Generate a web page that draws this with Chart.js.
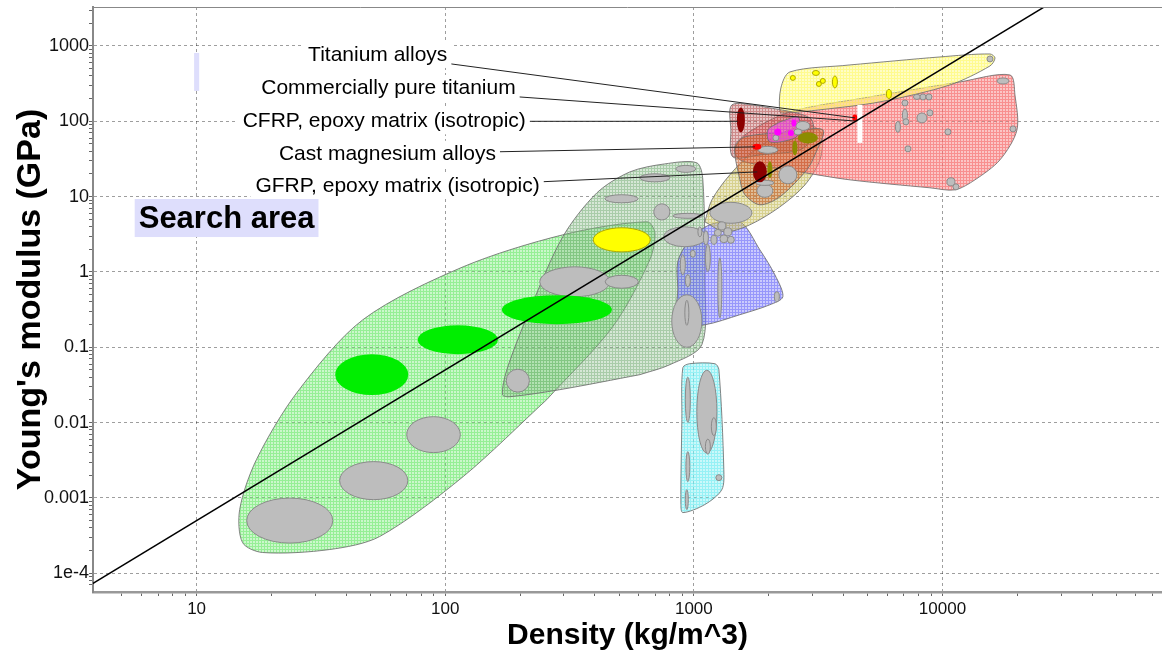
<!DOCTYPE html>
<html>
<head>
<meta charset="utf-8">
<script src="https://cdn.jsdelivr.net/npm/chart.js@4.4.1/dist/chart.umd.min.js"></script>
<style>
body { margin: 0; background: #fff; }
</style>
</head>
<body>
<canvas id="chart" width="1162" height="657"></canvas>
<script>
// axes
var xTicks = [10, 100, 1000, 10000];
var xTickLabels = ['10', '100', '1000', '10000'];
var yTicks = [1e-4, 0.001, 0.01, 0.1, 1, 10, 100, 1000];
var yTickLabels = ['1e-4', '0.001', '0.01', '0.1', '1', '10', '100', '1000'];
var xRange = [3.83, 76400];
var yRange = [5.65e-5, 3290];

// guide line (slope 2 in log-log)
var guideDensity = [1, 100000];
var guideModulus = [5.0e-6, 5.0e4];

// envelopes, [density, modulus] hull points
var foams = [[256,0.0202],[472,0.188],[665,1.45],[697,3.31],[647,4.63],[297,3.11],[118,1.17],[46.6,0.232],[25.3,0.025],[17.4,3.23e-3],[14.9,7.02e-4],[15.3,2.56e-4],[18.4,1.89e-4],[34.3,2.07e-4],[54.5,3.08e-4],[118,1.92e-3]];
var natural = [[606,0.0433],[289,0.0274],[182,0.0221],[170,0.0235],[177,0.0505],[219,0.315],[297,2.93],[407,11.2],[553,21.3],[764,27.2],[1028,28.1],[1087,16.7],[1107,0.788],[1077,0.108],[801,0.0588]];
var elastomers = [[895,0.011],[903,0.0536],[963,0.0606],[1215,0.0606],[1261,0.0505],[1320,2.38e-3],[1296,1.29e-3],[1107,8.18e-4],[903,6.40e-4],[887,8.18e-4]];
var polymers = [[862,0.6],[862,1.37],[963,2.67],[1160,4.23],[1532,4.63],[1843,1.97],[2118,0.918],[2281,0.469],[2022,0.367],[1532,0.271],[1107,0.199],[862,0.199]];
var composites = [[1107,4.63],[1182,9.07],[1396,19.5],[1760,41.8],[2324,72.3],[2930,89.6],[3275,66.0],[3214,30.8],[2797,14.3],[2219,7.32],[1680,4.23],[1332,3.41]];
var metals = [[5107,211],[11760,333],[18690,412],[19570,224],[19940,76.9],[17040,30.8],[13510,16.7],[11230,12.3],[8906,13.1],[4243,16.7],[2670,21.3],[1843,26.4],[1532,30.8],[1462,41.8],[1604,66.0],[2434,133]];
var ceramics = [[4243,560],[9770,715],[15530,783],[16270,693],[15530,543],[10720,304],[5604,181],[3214,142],[2324,129],[2219,133],[2239,277],[2434,452]];
var cfrp = [[1843,160],[2930,111],[3012,62.1],[2670,41.8],[1843,35.8],[1435,33.7],[1409,76.9],[1422,165]];
var lightAlloys = [[2434,72.3],[3305,76.9],[3068,35.8],[2848,22.7],[2219,9.94],[1843,7.79],[1604,10.6],[1532,16.7],[1462,45.8],[1604,62.1]];
var magnesium = [[2219,98.2],[2621,114],[2670,81.7],[2550,60.2],[2022,53.3],[1985,76.9]];

var envelopes = [foams, natural, elastomers, polymers, composites, metals, ceramics, cfrp, lightAlloys, magnesium];
var envelopeColors = [
  [100, 230, 100, 0.42], [120, 175, 120, 0.38], [110, 235, 240, 0.45], [110, 110, 250, 0.45],
  [200, 190, 100, 0.45], [245, 110, 110, 0.5], [255, 250, 110, 0.5], [180, 80, 80, 0.4],
  [200, 100, 50, 0.4], [230, 80, 220, 0.55]
];

// bubbles: [density lo, density hi, modulus lo, modulus hi]
var grayBubbles = [
  [15.9,35.3,2.52e-4,9.97e-4],[37.6,70.7,9.5e-4,3.04e-3],[70,115,4.0e-3,0.012],[176,218,0.0254,0.0512],
  [240,459,0.469,1.17],[440,598,0.608,0.904],[439,597,8.28,10.6],[606,801,15.7,20.1],[846,1019,21.0,26.0],
  [690,801,4.90,8.03],[823,1087,5.15,6.00],[757,1118,2.16,3.98],[1160,1712,4.43,8.40],
  [1249,1345,3.61,4.63],[1320,1422,3.02,3.86],[1209,1290,2.98,3.68],[1273,1370,2.44,3.11],
  [1364,1455,2.40,2.98],[1171,1238,2.33,3.07],[1092,1144,2.29,3.52],[1038,1077,2.93,3.98],
  [882,924,0.918,1.69],[924,968,0.637,0.918],[968,1014,1.57,1.94],[1113,1165,1.02,2.33],
  [1249,1296,0.247,1.54],[815,1077,0.1,0.498],[920,955,0.196,0.421],[2108,2208,0.402,0.546],
  [1028,1238,3.94e-3,0.0497],[1176,1232,6.72e-3,0.01165],[1113,1165,3.82e-3,6.04e-3],[924,968,0.01015,0.0401],
  [929,963,1.65e-3,4.12e-3],[924,950,7.02e-4,1.29e-3],[1226,1296,1.70e-3,2.04e-3],
  [1809,2178,37.5,46.5],[2198,2597,14.8,25.6],[1792,2079,9.79,14.6],[1776,2099,14.1,16.5],
  [2573,2930,75.7,99.7],[2526,2720,66.0,79.3],[2079,2198,55.0,66.0],
  [15100,15970,614,737],[16570,18520,313,376],[6871,7263,160,192],[7643,8155,195,228],[8118,8582,192,231],
  [8582,9073,192,231],[6903,7230,100,146],[6935,7330,89.6,108],[6468,6775,71.3,99.7],[7896,8661,95.2,129],
  [8661,9157,118,142],[10230,10820,66.0,79.3],[7066,7468,39.3,47.2],[18690,19760,72.3,86.9],
  [10420,11230,13.9,17.8],[11020,11650,12.3,14.8]
];
var greenBubbles = [[36.1,71.0,0.0232,0.081],[77.5,163,0.081,0.196],[169,468,0.2025,0.491]];
var yellowBubbles = [[394,668,1.85,3.86],[2445,2561,349,406],[2999,3199,406,473],[3111,3259,290,338],[3228,3381,318,371],[3609,3780,277,400],[5952,6233,201,265]];
var oliveBubbles = [[2621,3155,50.9,71.3],[2491,2609,35.3,55.8],[1975,2070,17.5,29.4]];
var magentaBubbles = [[2108,2250,65.0,80.5],[2389,2526,64.0,76.9],[2468,2585,85.6,106]];
var darkRedBubbles = [[1489,1604,71.3,153],[1728,1966,15.5,29.4]];
var redBubbles = [[1720,1869,41.8,50.2],[4343,4549,99.7,123]];
var whiteBars = [[4549,4764,51.7,165]];
var searchBar = [9.77, 10.24, 253, 808];

// labels
var labelTexts = ['Titanium alloys', 'Commercially pure titanium', 'CFRP, epoxy matrix (isotropic)', 'Cast magnesium alloys', 'GFRP, epoxy matrix (isotropic)'];
var labelAt = [[102, 760], [192, 277], [211, 100], [160, 37.0], [240, 13.9]];
var labelTarget = [[4445, 111], [4445, 101], [1503, 100], [1760, 45.8], [1800, 21.3]];
var searchText = 'Search area';
var searchAt = [13.2, 5.2];

Chart.defaults.font.family = "'Liberation Sans', Arial, sans-serif";

function hatch(c) {
  var cv = document.createElement('canvas');
  cv.width = 3; cv.height = 3;
  var g = cv.getContext('2d');
  g.fillStyle = 'rgba(' + c[0] + ',' + c[1] + ',' + c[2] + ',' + (c[3] * 0.8) + ')';
  g.fillRect(0, 0, 3, 3);
  g.fillStyle = 'rgba(' + c[0] + ',' + c[1] + ',' + c[2] + ',' + Math.min(1, c[3] * 1.25) + ')';
  g.fillRect(0, 0, 3, 1);
  g.fillRect(0, 1, 1, 2);
  return g.createPattern(cv, 'repeat');
}

function isDecade(v) {
  var l = Math.log10(v);
  return Math.abs(l - Math.round(l)) < 1e-6;
}

function keepWholeSteps(scale) {
  scale.ticks = scale.ticks.filter(function (t) {
    var m = t.value / Math.pow(10, Math.floor(Math.log10(t.value) + 1e-9));
    return Math.abs(m - Math.round(m)) < 1e-6;
  });
}

function tickText(v, vals, texts) {
  for (var i = 0; i < vals.length; i++) {
    if (Math.abs(v / vals[i] - 1) < 1e-6) return texts[i];
  }
  return '';
}

function gridColor(ctx) {
  return ctx.tick && isDecade(ctx.tick.value) ? 'rgba(0,0,0,0.38)' : 'rgba(0,0,0,0)';
}

var datasets = [{
  data: guideDensity.map(function (x, i) { return {x: x, y: guideModulus[i]}; }),
  showLine: true, borderColor: '#000', borderWidth: 1.5, pointRadius: 0, fill: false, order: 0
}];
envelopes.forEach(function (env, i) {
  datasets.push({
    data: env.concat([env[0]]).map(function (p) { return {x: p[0], y: p[1]}; }),
    showLine: true,
    fill: 'shape',
    backgroundColor: hatch(envelopeColors[i]),
    borderColor: 'rgba(110,110,110,0.85)',
    borderWidth: 1,
    pointRadius: 0,
    tension: 0.3,
    order: envelopes.length - i
  });
});

function drawBubbles(chart, list, fill, stroke) {
  var ctx = chart.ctx, xs = chart.scales.x, ys = chart.scales.y;
  list.forEach(function (b) {
    var x1 = xs.getPixelForValue(b[0]), x2 = xs.getPixelForValue(b[1]);
    var y1 = ys.getPixelForValue(b[2]), y2 = ys.getPixelForValue(b[3]);
    ctx.beginPath();
    ctx.ellipse((x1 + x2) / 2, (y1 + y2) / 2, Math.abs(x2 - x1) / 2, Math.abs(y1 - y2) / 2, 0, 0, Math.PI * 2);
    ctx.fillStyle = fill;
    ctx.fill();
    if (stroke) {
      ctx.strokeStyle = stroke;
      ctx.lineWidth = 1;
      ctx.stroke();
    }
  });
}

var ashby = {
  id: 'ashby',
  beforeDatasetsDraw: function (chart) {
    var ctx = chart.ctx, xs = chart.scales.x, ys = chart.scales.y;
    ctx.save();
    ctx.fillStyle = 'rgb(222,222,252)';
    var x1 = xs.getPixelForValue(searchBar[0]), x2 = xs.getPixelForValue(searchBar[1]);
    var y1 = ys.getPixelForValue(searchBar[2]), y2 = ys.getPixelForValue(searchBar[3]);
    ctx.fillRect(x1, y2, x2 - x1, y1 - y2);
    ctx.restore();
  },
  beforeDatasetDraw: function (chart, args) {
    if (args.index !== 0) return;
    var ctx = chart.ctx;
    ctx.save();
    drawBubbles(chart, grayBubbles, '#bdbdbd', '#8a8a8a');
    drawBubbles(chart, greenBubbles, '#00ee00', null);
    drawBubbles(chart, yellowBubbles, '#ffff00', '#b0a800');
    drawBubbles(chart, oliveBubbles, '#8c8c00', null);
    drawBubbles(chart, magentaBubbles, '#ff00ff', null);
    drawBubbles(chart, darkRedBubbles, '#8b0000', null);
    drawBubbles(chart, redBubbles, '#ff0000', null);
    var xs = chart.scales.x, ys = chart.scales.y;
    ctx.fillStyle = '#fff';
    whiteBars.forEach(function (b) {
      var x1 = xs.getPixelForValue(b[0]), x2 = xs.getPixelForValue(b[1]);
      var y1 = ys.getPixelForValue(b[2]), y2 = ys.getPixelForValue(b[3]);
      ctx.fillRect(x1, y2, x2 - x1, y1 - y2);
    });
    ctx.restore();
  },
  afterDatasetsDraw: function (chart) {
    var ctx = chart.ctx, xs = chart.scales.x, ys = chart.scales.y, area = chart.chartArea;
    ctx.save();
    // top frame line
    ctx.strokeStyle = '#888';
    ctx.lineWidth = 1;
    ctx.beginPath();
    ctx.moveTo(area.left, area.top + 0.5);
    ctx.lineTo(area.right, area.top + 0.5);
    ctx.stroke();

    ctx.font = "21px 'Liberation Sans', Arial, sans-serif";
    ctx.textAlign = 'right';
    ctx.textBaseline = 'middle';
    labelTexts.forEach(function (t, i) {
      var x = xs.getPixelForValue(labelAt[i][0]), y = ys.getPixelForValue(labelAt[i][1]);
      var tx = xs.getPixelForValue(labelTarget[i][0]), ty = ys.getPixelForValue(labelTarget[i][1]);
      var w = ctx.measureText(t).width;
      ctx.fillStyle = '#fff';
      ctx.fillRect(x - w - 5, y - 13, w + 9, 26);
      var sy = y + Math.max(-6, Math.min(9, (ty - y) * 0.3));
      ctx.strokeStyle = '#222';
      ctx.beginPath();
      ctx.moveTo(x + 4, sy);
      ctx.lineTo(tx, ty);
      ctx.stroke();
      ctx.fillStyle = '#000';
      ctx.fillText(t, x, y);
    });

    ctx.font = "bold 31px 'Liberation Sans', Arial, sans-serif";
    ctx.textAlign = 'center';
    var sx = xs.getPixelForValue(searchAt[0]), sy2 = ys.getPixelForValue(searchAt[1]);
    var sw = ctx.measureText(searchText).width;
    ctx.fillStyle = 'rgb(222,222,252)';
    ctx.fillRect(sx - sw / 2 - 4, sy2 - 19, sw + 8, 38);
    ctx.fillStyle = '#000';
    ctx.fillText(searchText, sx, sy2 + 1);
    ctx.restore();
  }
};

new Chart(document.getElementById('chart'), {
  type: 'scatter',
  data: { datasets: datasets },
  options: {
    responsive: false,
    animation: false,
    events: [],
    layout: { padding: { top: 7, right: 0, left: 0, bottom: 0 } },
    plugins: { legend: { display: false }, tooltip: { enabled: false } },
    scales: {
      x: {
        type: 'logarithmic', position: 'bottom', min: xRange[0], max: xRange[1],
        afterBuildTicks: keepWholeSteps,
        afterFit: function (s) { s.height = 65; s.paddingLeft = 0; s.paddingRight = 0; },
        ticks: { autoSkip: false, maxRotation: 0, padding: 3, color: '#111', font: { size: 17 },
          callback: function (v) { return tickText(v, xTicks, xTickLabels); } },
        grid: { color: gridColor, tickColor: '#666', tickLength: 4, lineWidth: 1 },
        border: { display: true, color: '#999', width: 2.5, dash: [3, 3] },
        title: { display: true, text: 'Density (kg/m^3)', color: '#000',
          font: { size: 30, weight: 'bold', lineHeight: 1.2 }, padding: { top: 0, bottom: 3 } }
      },
      y: {
        type: 'logarithmic', position: 'left', min: yRange[0], max: yRange[1],
        afterBuildTicks: keepWholeSteps,
        afterFit: function (s) { s.width = 93; s.paddingTop = 0; s.paddingBottom = 0; },
        ticks: { autoSkip: false, padding: 0, color: '#111', font: { size: 18 },
          callback: function (v) { return tickText(v, yTicks, yTickLabels); } },
        grid: { color: gridColor, tickColor: '#666', tickLength: 4, lineWidth: 1 },
        border: { display: true, color: '#888', width: 2, dash: [3, 3] },
        title: { display: true, text: "Young's modulus (GPa)", color: '#000',
          font: { size: 34, weight: 'bold', lineHeight: 1.2 }, padding: { top: 10, bottom: 0 } }
      }
    }
  },
  plugins: [ashby]
});
</script>
</body>
</html>
